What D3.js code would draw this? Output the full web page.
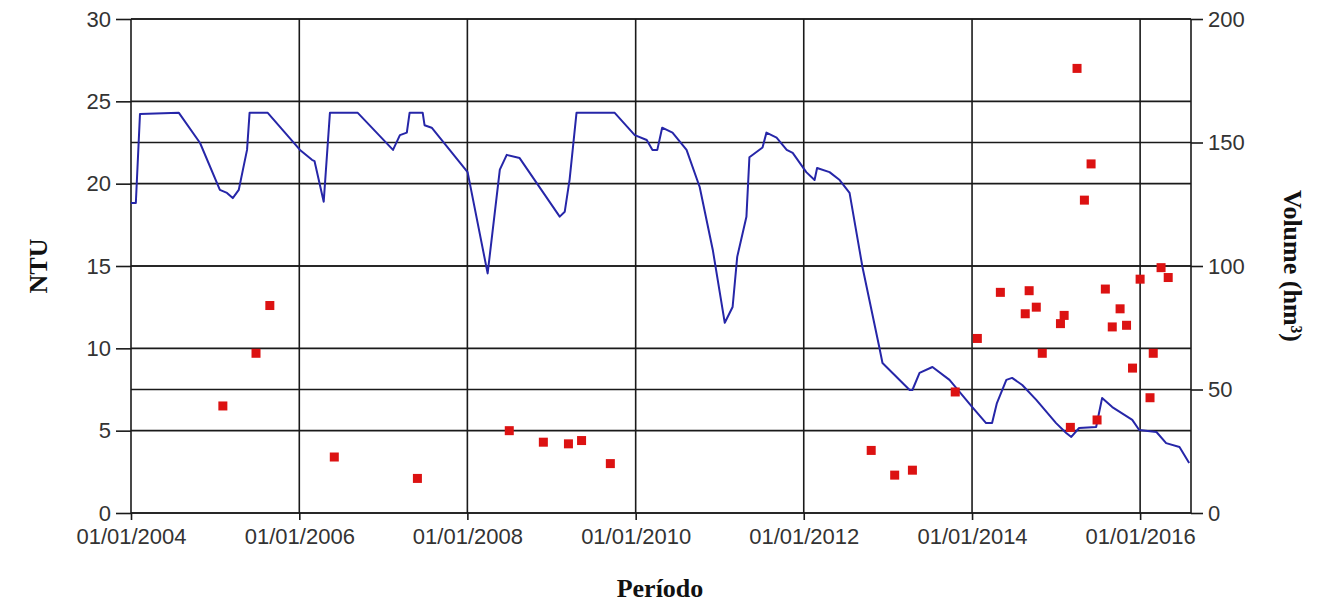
<!DOCTYPE html>
<html>
<head>
<meta charset="utf-8">
<script src="https://cdn.jsdelivr.net/npm/d3@7"></script>
<style>
  body { margin: 0; background: #fff; }
  .tick text { font-family: "Liberation Sans", Arial, sans-serif; font-size: 22px; fill: #333; }
  .title { font-family: "Liberation Serif", "Times New Roman", serif; font-weight: bold; font-size: 26px; fill: #111; }
</style>
</head>
<body>
<div id="chart-area"></div>
<script>
// volume (hm3)
let volDates = ["2004-01-01","2004-01-22","2004-02-09","2004-07-27","2004-10-27","2005-01-21","2005-02-21","2005-03-18","2005-04-13","2005-05-01","2005-05-19","2005-05-30","2005-08-17","2006-01-04","2006-02-25","2006-03-08","2006-04-17","2006-05-14","2006-09-12","2007-02-12","2007-03-14","2007-04-13","2007-04-25","2007-06-21","2007-06-29","2007-07-30","2008-01-02","2008-03-29","2008-05-21","2008-06-20","2008-08-15","2009-02-05","2009-02-27","2009-03-20","2009-04-19","2009-10-02","2009-12-28","2010-02-18","2010-03-15","2010-04-05","2010-04-26","2010-06-10","2010-08-10","2010-10-06","2010-12-02","2011-01-23","2011-02-26","2011-03-18","2011-04-27","2011-05-10","2011-07-06","2011-07-23","2011-09-05","2011-10-19","2011-11-14","2012-01-12","2012-02-17","2012-02-28","2012-04-22","2012-06-05","2012-07-18","2012-09-12","2012-11-24","2012-12-08","2013-04-05","2013-04-17","2013-05-18","2013-07-13","2013-09-25","2014-01-02","2014-03-03","2014-03-29","2014-04-19","2014-05-30","2014-06-24","2014-08-07","2014-10-07","2015-01-01","2015-02-14","2015-03-08","2015-04-11","2015-06-24","2015-07-20","2015-09-02","2015-11-28","2015-12-28","2016-03-12","2016-04-23","2016-06-20","2016-08-01"];
let volValues = [125.5,125.5,161.5,162,149.8,130.8,129.6,127.5,130.8,138.9,147,162,162,147,143,142.5,126,162,162,147,153,154,162,162,157,156,138,97,139,145,143.7,120,122,135,162,162,153,151,147,147,156,154,147,132,106.5,77,83.4,103.7,119.9,144,148,154,152,147,145.8,138,134.8,139.7,138,134.8,129.6,99.6,67.2,60.7,49.8,49.8,56.7,59.1,53.9,42.9,36.4,36.4,44.5,53.9,54.7,51.8,45.8,36.4,32.4,30.8,34.4,34.8,46.6,42.9,37.7,33.6,32.8,28.3,26.7,20.2];

// turbidity samples (NTU), red squares
let ntuDates = ["2005-02-03","2005-06-27","2005-08-26","2006-06-02","2007-05-29","2008-07-01","2008-11-26","2009-03-15","2009-05-11","2009-09-13","2012-10-20","2013-01-30","2013-04-17","2013-10-20","2014-01-24","2014-05-04","2014-08-20","2014-09-06","2014-10-07","2014-11-02","2015-01-20","2015-02-05","2015-03-04","2015-04-02","2015-05-04","2015-06-02","2015-06-28","2015-08-03","2015-09-02","2015-10-06","2015-11-03","2015-11-29","2016-01-01","2016-02-13","2016-02-27","2016-04-01","2016-05-02"];
let ntuValues = [6.5,9.7,12.6,3.4,2.1,5.0,4.3,4.2,4.4,3.0,3.8,2.3,2.6,7.35,10.6,13.4,12.1,13.5,12.5,9.7,11.5,12.0,5.2,27.0,19.0,21.2,5.65,13.6,11.3,12.4,11.4,8.8,14.2,7.0,9.7,14.9,14.3];

let ntuTicks = [0, 5, 10, 15, 20, 25, 30];
let volTicks = [0, 50, 100, 150, 200];
let dateTicks = ["2004-01-01","2006-01-01","2008-01-01","2010-01-01","2012-01-01","2014-01-01","2016-01-01"];
let dateEnd = "2016-08-09";

let margin = {
  left: 131,
  right: 142,
  top: 19,
  bottom: 94
}

let svgW = 1333;
let svgH = 607;

let chartW = svgW - margin.left - margin.right;
let chartH = svgH - margin.top - margin.bottom;

const parse = d3.timeParse("%Y-%m-%d");

let x = d3.scaleTime()
  .domain([parse(dateTicks[0]), parse(dateEnd)])
  .range([0, chartW])

let yL = d3.scaleLinear().domain([0, 30]).range([chartH, 0])
let yR = d3.scaleLinear().domain([0, 200]).range([chartH, 0])

let svg = d3.select("#chart-area")
  .append("svg")
  .attr("width", svgW)
  .attr("height", svgH)

let group = svg.append('g')
  .attr("transform", `translate(${margin.left},${margin.top})`)

// grid
let grid = group.append("g").attr("stroke", "#1a1a1a").attr("stroke-width", 1.6)
grid.selectAll(".hl").data(ntuTicks).enter().append("line")
  .attr("x1", 0).attr("x2", chartW)
  .attr("y1", d => yL(d)).attr("y2", d => yL(d))
grid.selectAll(".hr").data(volTicks).enter().append("line")
  .attr("x1", 0).attr("x2", chartW)
  .attr("y1", d => yR(d)).attr("y2", d => yR(d))
grid.selectAll(".v").data(dateTicks.map(parse)).enter().append("line")
  .attr("x1", d => x(d)).attr("x2", d => x(d))
  .attr("y1", 0).attr("y2", chartH)
grid.append("line").attr("x1", chartW).attr("x2", chartW).attr("y1", 0).attr("y2", chartH)

let xAxis = d3.axisBottom(x)
  .tickValues(dateTicks.map(parse))
  .tickFormat(d3.timeFormat("%d/%m/%Y"))
  .tickSize(7).tickPadding(8)

let yAxisL = d3.axisLeft(yL).tickValues(ntuTicks).tickSize(15).tickPadding(5)
let yAxisR = d3.axisRight(yR).tickValues(volTicks).tickSize(12).tickPadding(5)

group.append("g")
  .attr("class", "x axis")
  .attr("transform", `translate(0, ${chartH})`)
  .call(xAxis)

group.append("g").attr("class", "y axis").call(yAxisL)

group.append("g")
  .attr("class", "y axis")
  .attr("transform", `translate(${chartW}, 0)`)
  .call(yAxisR)

group.selectAll(".axis path, .axis line")
  .attr("stroke", "#1a1a1a").attr("stroke-width", 1.6)
group.selectAll(".axis .domain").remove()

// volume line
let vol = volDates.map((d, i) => ({ date: parse(d), value: volValues[i] }))

group.append("path")
  .datum(vol)
  .attr("fill", "none")
  .attr("stroke", "#2626a8")
  .attr("stroke-width", 2)
  .attr("stroke-linejoin", "round")
  .attr("d", d3.line().x(d => x(d.date)).y(d => yR(d.value)))

// NTU squares
let ntu = ntuDates.map((d, i) => ({ date: parse(d), value: ntuValues[i] }))
let sq = 9

group.selectAll('rect.ntu')
  .data(ntu)
  .enter()
  .append('rect')
  .attr("class", "ntu")
  .attr("x", d => x(d.date) - sq / 2)
  .attr("y", d => yL(d.value) - sq / 2)
  .attr("width", sq)
  .attr("height", sq)
  .attr("fill", "#dc1212")

// titles
svg.append("text")
  .attr("class", "title")
  .attr("text-anchor", "middle")
  .attr("transform", `translate(47, ${margin.top + chartH / 2}) rotate(-90)`)
  .text("NTU")

svg.append("text")
  .attr("class", "title")
  .attr("text-anchor", "middle")
  .attr("transform", `translate(1284, ${margin.top + chartH / 2}) rotate(90)`)
  .text("Volume (hm³)")

svg.append("text")
  .attr("class", "title")
  .attr("text-anchor", "middle")
  .attr("x", 660)
  .attr("y", 597)
  .text("Período")
</script>
</body>
</html>
